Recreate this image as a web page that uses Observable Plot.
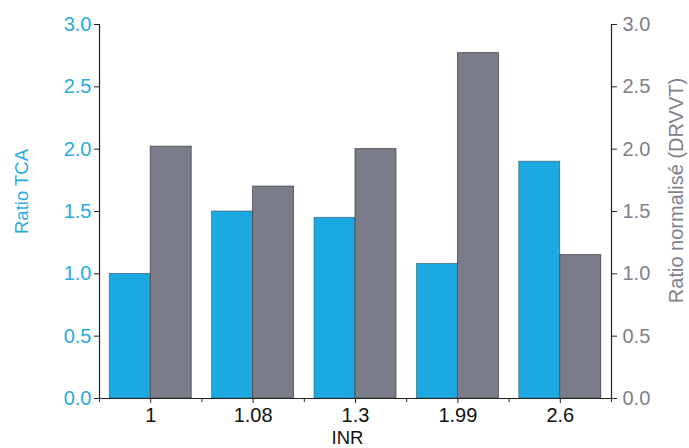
<!DOCTYPE html>
<html><head><meta charset="utf-8">
<script src="https://cdn.jsdelivr.net/npm/d3@7"></script>
<script src="https://cdn.jsdelivr.net/npm/@observablehq/plot@0.6"></script>
<style>body{margin:0;background:#fff}</style>
</head><body><div id="chart"></div>
<script>
const inr = ["1", "1.08", "1.3", "1.99", "2.6"];
const ratioTCA = [1.00, 1.50, 1.45, 1.08, 1.90];
const ratioDRVVT = [2.02, 1.70, 2.00, 2.77, 1.15];
const yTicks = [0, 0.5, 1, 1.5, 2, 2.5, 3];

const idx = inr.map((d, i) => i + 1);
const bounds = d3.range(inr.length + 1).map(i => i + 0.5);
const tca = inr.map((d, i) => ({x1: i + 1 - 0.4, x2: i + 1, y: ratioTCA[i]}));
const drv = inr.map((d, i) => ({x1: i + 1, x2: i + 1.4, y: ratioDRVVT[i]}));

const blue = "#1ca9e1", gray = "#7b7c89";
const font = "'Liberation Sans', Arial, sans-serif";

const chart = Plot.plot({
  width: 689, height: 448,
  marginLeft: 99, marginRight: 78, marginTop: 24, marginBottom: 50,
  x: {domain: [0.5, inr.length + 0.5]},
  y: {domain: [0, 3]},
  style: {fontFamily: font, background: "#fff"},
  marks: [
    Plot.rectY(tca, {x1: "x1", x2: "x2", y: "y", fill: blue, stroke: "#3d5560", strokeWidth: 0.6}),
    Plot.rectY(drv, {x1: "x1", x2: "x2", y: "y", fill: gray, stroke: "#45464f", strokeWidth: 0.8}),
    Plot.ruleY([0], {stroke: "#222", strokeWidth: 1.2}),
    Plot.ruleX([bounds[0], bounds[bounds.length - 1]], {y1: 0, y2: 3, stroke: "#222", strokeWidth: 1.2}),
    Plot.axisY({anchor: "left", ticks: yTicks, tickFormat: d3.format(".1f"), tickSize: 5, tickPadding: 3,
      fontSize: 20, fill: "#29aae1", stroke: "#222", label: null}),
    Plot.axisY({anchor: "right", ticks: yTicks, tickFormat: d3.format(".1f"), tickSize: 5, tickPadding: 6,
      fontSize: 20, fill: "#7f808a", stroke: "#222", label: null}),
    Plot.axisX({ticks: idx, tickFormat: i => inr[i - 1], tickSize: 5, tickPadding: 4,
      fontSize: 20, fill: "#111", stroke: "#222", label: null}),
    Plot.axisX({ticks: bounds, tickFormat: () => "", tickSize: 4, stroke: "#222", label: null}),
    Plot.text(["Ratio TCA"], {text: d => d, frameAnchor: "left", textAnchor: "middle", rotate: -90, dx: -77, dy: -20,
      fill: "#29aae1", fontSize: 18.5}),
    Plot.text(["Ratio normalisé (DRVVT)"], {text: d => d, frameAnchor: "right", textAnchor: "middle", rotate: -90, dx: 65, dy: -21,
      fill: "#7f808a", fontSize: 20}),
    Plot.text(["INR"], {text: d => d, frameAnchor: "bottom", lineAnchor: "bottom", dx: -8, dy: 45, fill: "#111", fontSize: 18.5})
  ]
});
document.getElementById("chart").appendChild(chart);
</script>
</body></html>
